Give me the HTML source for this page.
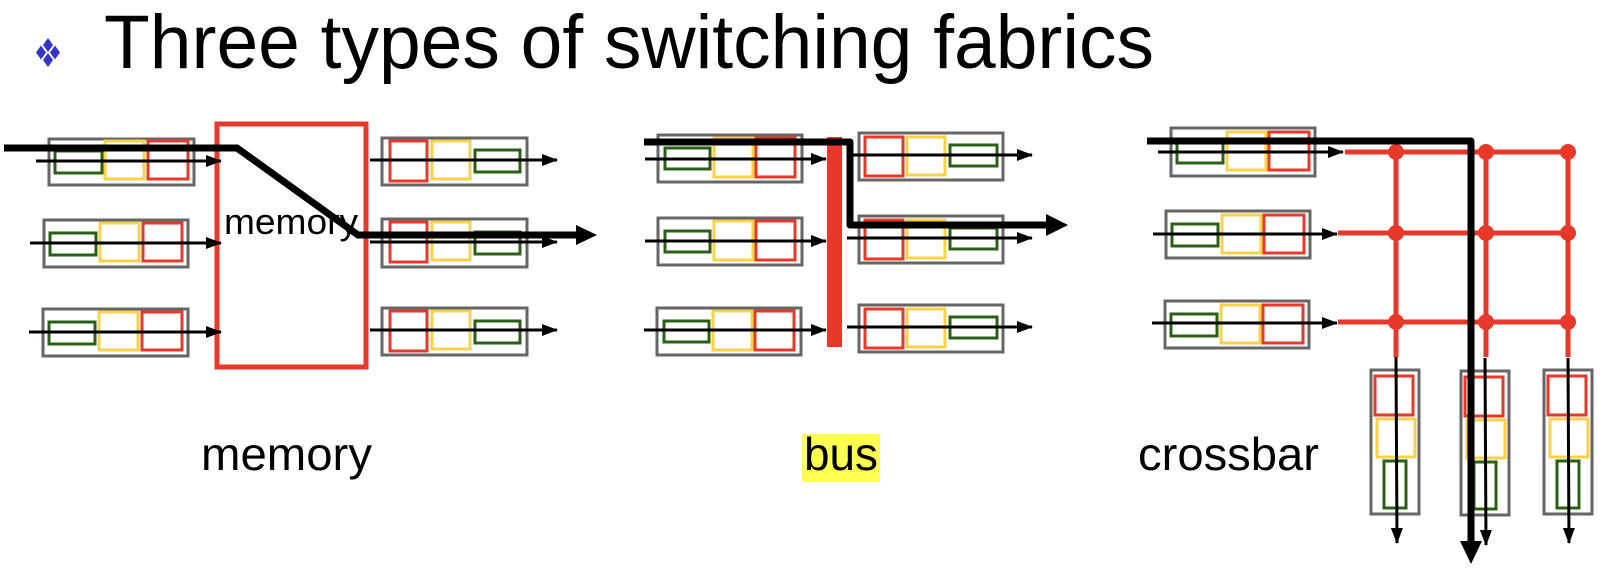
<!DOCTYPE html>
<html><head><meta charset="utf-8"><style>
html,body{margin:0;padding:0;background:#fff;}
svg{display:block;}
text{font-family:"Liberation Sans",sans-serif;fill:#000;}
</style></head><body>
<svg width="1624" height="570" viewBox="0 0 1624 570" xmlns="http://www.w3.org/2000/svg">
<defs>
<marker id="a" markerWidth="16" markerHeight="12" refX="15" refY="6" orient="auto" markerUnits="userSpaceOnUse"><path d="M0,0 L16,6 L0,12 z" fill="#000"/></marker>
</defs>
<!-- title -->
<g fill="#3333cc">
<path d="M48,38 l5,7 l-5,7 l-5,-7z"/><path d="M48,53 l5,7 l-5,7 l-5,-7z"/>
<path d="M41,45.5 l5,7 l-5,7 l-5,-7z"/><path d="M55,45.5 l5,7 l-5,7 l-5,-7z"/>
</g>
<text x="104" y="68" font-size="76" textLength="1050" lengthAdjust="spacingAndGlyphs">Three types of switching fabrics</text>

<g fill="none" stroke-width="3">
<rect x="49" y="139" width="145" height="46" stroke="#666"/>
<rect x="55" y="151" width="47" height="22" stroke="#2a6015"/>
<rect x="105" y="141" width="39" height="38" stroke="#f8d24a"/>
<rect x="148" y="141" width="40" height="38" stroke="#e8382a"/>
<rect x="44" y="220" width="144" height="47" stroke="#666"/>
<rect x="50" y="233" width="46" height="22" stroke="#2a6015"/>
<rect x="100" y="223" width="39" height="38" stroke="#f8d24a"/>
<rect x="143" y="223" width="39" height="38" stroke="#e8382a"/>
<rect x="43" y="309" width="145" height="47" stroke="#666"/>
<rect x="49" y="322" width="46" height="22" stroke="#2a6015"/>
<rect x="99" y="312" width="39" height="38" stroke="#f8d24a"/>
<rect x="142" y="312" width="40" height="38" stroke="#e8382a"/>
<rect x="382" y="138" width="145" height="47" stroke="#666"/>
<rect x="390" y="141" width="37" height="40" stroke="#e8382a"/>
<rect x="432" y="141" width="38" height="38" stroke="#f8d24a"/>
<rect x="475" y="150" width="45" height="22" stroke="#2a6015"/>
<rect x="382" y="219" width="145" height="48" stroke="#666"/>
<rect x="390" y="222" width="37" height="40" stroke="#e8382a"/>
<rect x="432" y="222" width="38" height="38" stroke="#f8d24a"/>
<rect x="475" y="232" width="45" height="22" stroke="#2a6015"/>
<rect x="382" y="308" width="145" height="47" stroke="#666"/>
<rect x="390" y="311" width="37" height="40" stroke="#e8382a"/>
<rect x="432" y="311" width="38" height="38" stroke="#f8d24a"/>
<rect x="475" y="321" width="45" height="22" stroke="#2a6015"/>
<rect x="217" y="124" width="149" height="243" stroke="#e8382a" stroke-width="5"/>
</g>
<text x="224" y="234" font-size="36" textLength="134" lengthAdjust="spacingAndGlyphs">memory</text>
<g stroke="#000" stroke-width="3">
<line x1="36" y1="161" x2="221" y2="161" marker-end="url(#a)"/>
<line x1="30" y1="243" x2="221" y2="243" marker-end="url(#a)"/>
<line x1="29" y1="332" x2="221" y2="332" marker-end="url(#a)"/>
<line x1="370" y1="160" x2="557" y2="160" marker-end="url(#a)"/>
<line x1="370" y1="242" x2="557" y2="242" marker-end="url(#a)"/>
<line x1="370" y1="330" x2="557" y2="330" marker-end="url(#a)"/>
</g>
<polyline points="4,148 237,148 358,235 580,235" fill="none" stroke="#000" stroke-width="7"/>
<path d="M576,225 L597,235 L576,245z" fill="#000"/>

<!-- BUS -->
<g fill="none" stroke-width="3">
<rect x="658" y="135" width="144" height="47" stroke="#666"/>
<rect x="665" y="148" width="45" height="21" stroke="#2a6015"/>
<rect x="714" y="138" width="39" height="39" stroke="#f8d24a"/>
<rect x="756" y="138" width="39" height="39" stroke="#e8382a"/>
<rect x="658" y="218" width="144" height="47" stroke="#666"/>
<rect x="665" y="231" width="45" height="21" stroke="#2a6015"/>
<rect x="714" y="221" width="39" height="39" stroke="#f8d24a"/>
<rect x="756" y="221" width="39" height="39" stroke="#e8382a"/>
<rect x="657" y="308" width="144" height="47" stroke="#666"/>
<rect x="664" y="321" width="45" height="21" stroke="#2a6015"/>
<rect x="713" y="311" width="39" height="39" stroke="#f8d24a"/>
<rect x="755" y="311" width="39" height="39" stroke="#e8382a"/>
<rect x="859" y="133" width="144" height="47" stroke="#666"/>
<rect x="865" y="137" width="38" height="39" stroke="#e8382a"/>
<rect x="907" y="137" width="38" height="38" stroke="#f8d24a"/>
<rect x="950" y="145" width="47" height="21" stroke="#2a6015"/>
<rect x="859" y="216" width="144" height="47" stroke="#666"/>
<rect x="865" y="220" width="38" height="39" stroke="#e8382a"/>
<rect x="907" y="220" width="38" height="38" stroke="#f8d24a"/>
<rect x="950" y="228" width="47" height="21" stroke="#2a6015"/>
<rect x="859" y="305" width="144" height="47" stroke="#666"/>
<rect x="865" y="309" width="38" height="39" stroke="#e8382a"/>
<rect x="907" y="309" width="38" height="38" stroke="#f8d24a"/>
<rect x="950" y="317" width="47" height="21" stroke="#2a6015"/>
</g>
<rect x="827" y="137" width="15" height="210" fill="#e8382a"/>
<g stroke="#000" stroke-width="3">
<line x1="645" y1="159" x2="826" y2="159" marker-end="url(#a)"/>
<line x1="645" y1="241" x2="826" y2="241" marker-end="url(#a)"/>
<line x1="644" y1="330" x2="826" y2="330" marker-end="url(#a)"/>
<line x1="847" y1="155" x2="1032" y2="155" marker-end="url(#a)"/>
<line x1="847" y1="238" x2="1032" y2="238" marker-end="url(#a)"/>
<line x1="847" y1="327" x2="1032" y2="327" marker-end="url(#a)"/>
</g>
<polyline points="644,142 850,142 850,225 1050,225" fill="none" stroke="#000" stroke-width="7" stroke-linejoin="round"/>
<path d="M1046,214 L1068,225 L1046,236z" fill="#000"/>

<!-- CROSSBAR -->
<g fill="none" stroke-width="3">
<rect x="1171" y="128" width="144" height="48" stroke="#666"/>
<rect x="1177" y="140" width="46" height="23" stroke="#2a6015"/>
<rect x="1227" y="132" width="39" height="38" stroke="#f8d24a"/>
<rect x="1269" y="132" width="40" height="38" stroke="#e8382a"/>
<rect x="1166" y="211" width="144" height="47" stroke="#666"/>
<rect x="1172" y="224" width="46" height="22" stroke="#2a6015"/>
<rect x="1222" y="215" width="39" height="38" stroke="#f8d24a"/>
<rect x="1264" y="215" width="40" height="38" stroke="#e8382a"/>
<rect x="1165" y="301" width="144" height="47" stroke="#666"/>
<rect x="1171" y="314" width="46" height="22" stroke="#2a6015"/>
<rect x="1221" y="305" width="39" height="38" stroke="#f8d24a"/>
<rect x="1263" y="305" width="40" height="38" stroke="#e8382a"/>
<g>
<rect x="1371" y="370" width="48" height="144" stroke="#666"/>
<rect x="1375" y="376" width="38" height="39" stroke="#e8382a"/>
<rect x="1377" y="419" width="38" height="38" stroke="#f8d24a"/>
<rect x="1384" y="461" width="22" height="47" stroke="#2a6015"/>
</g>
<g transform="translate(90,1)">
<rect x="1371" y="370" width="48" height="144" stroke="#666"/>
<rect x="1375" y="376" width="38" height="39" stroke="#e8382a"/>
<rect x="1377" y="419" width="38" height="38" stroke="#f8d24a"/>
<rect x="1384" y="461" width="22" height="47" stroke="#2a6015"/>
</g>
<g transform="translate(173,0)">
<rect x="1371" y="370" width="48" height="144" stroke="#666"/>
<rect x="1375" y="376" width="38" height="39" stroke="#e8382a"/>
<rect x="1377" y="419" width="38" height="38" stroke="#f8d24a"/>
<rect x="1384" y="461" width="22" height="47" stroke="#2a6015"/>
</g>
</g>
<g stroke="#e8382a" stroke-width="5" fill="none">
<line x1="1345" y1="152" x2="1568" y2="152"/>
<line x1="1338" y1="233" x2="1568" y2="233"/>
<line x1="1338" y1="322" x2="1568" y2="322"/>
<line x1="1396" y1="152" x2="1396" y2="357"/>
<line x1="1486" y1="152" x2="1486" y2="357"/>
<line x1="1568" y1="152" x2="1568" y2="357"/>
</g>
<g fill="#e8382a">
<circle cx="1396" cy="152" r="8"/><circle cx="1486" cy="152" r="8"/><circle cx="1568" cy="152" r="8"/>
<circle cx="1396" cy="233" r="8"/><circle cx="1486" cy="233" r="8"/><circle cx="1568" cy="233" r="8"/>
<circle cx="1396" cy="322" r="8"/><circle cx="1486" cy="322" r="8"/><circle cx="1568" cy="322" r="8"/>
</g>
<g stroke="#000" stroke-width="3">
<line x1="1158" y1="152" x2="1343" y2="152" marker-end="url(#a)"/>
<line x1="1153" y1="234" x2="1337" y2="234" marker-end="url(#a)"/>
<line x1="1152" y1="323" x2="1337" y2="323" marker-end="url(#a)"/>
<line x1="1396" y1="357" x2="1397" y2="543" marker-end="url(#a)"/>
<line x1="1485" y1="358" x2="1486" y2="545" marker-end="url(#a)"/>
<line x1="1568" y1="358" x2="1569" y2="543" marker-end="url(#a)"/>
</g>
<polyline points="1147,141 1471,141 1471,545" fill="none" stroke="#000" stroke-width="7" stroke-linejoin="round"/>
<path d="M1460,541 L1471,564 L1482,541z" fill="#000"/>

<!-- labels -->
<text x="201" y="470" font-size="46" textLength="171" lengthAdjust="spacingAndGlyphs">memory</text>
<rect x="802" y="434" width="78" height="48" fill="#ffff4f"/>
<text x="804" y="470" font-size="46" textLength="74" lengthAdjust="spacingAndGlyphs">bus</text>
<text x="1138" y="470" font-size="46" textLength="181" lengthAdjust="spacingAndGlyphs">crossbar</text>
</svg>
</body></html>
